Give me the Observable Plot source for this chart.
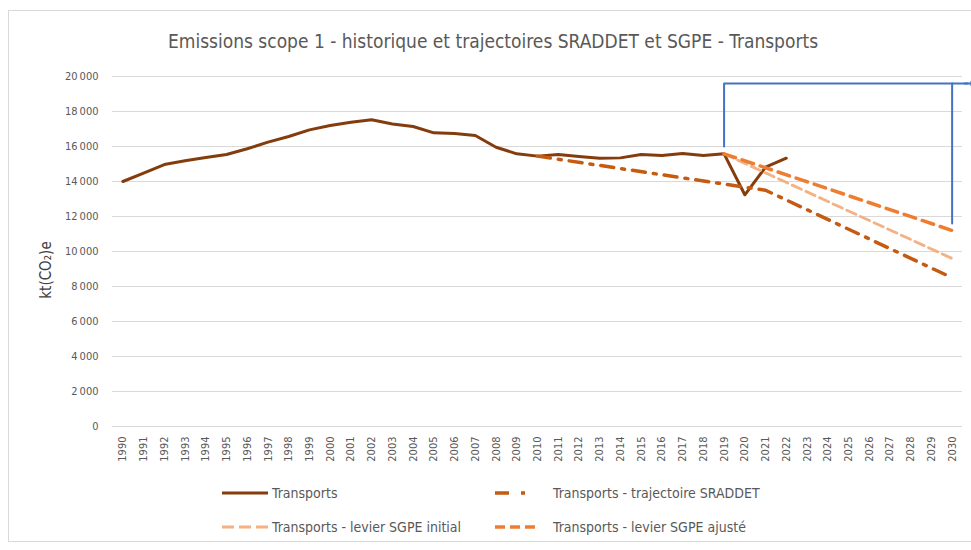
<!DOCTYPE html>
<html>
<head>
<meta charset="utf-8">
<script src="https://cdn.jsdelivr.net/npm/d3@7"></script>
<script src="https://cdn.jsdelivr.net/npm/@observablehq/plot@0.6"></script>
<style>
  html, body { margin: 0; padding: 0; background: #fff; }
  body { width: 971px; height: 550px; position: relative; overflow: hidden;
         font-family: "Liberation Sans Narrow", "DejaVu Sans Condensed", "Liberation Sans", sans-serif; }
  #frame { position: absolute; left: 8px; top: 10px; width: 980px; height: 532px; border: 1px solid #d9d9d9; box-sizing: border-box; }
  #title { position: absolute; top: 30px; left: 0; width: 986px; text-align: center; font-size: 19px; color: #595959; }
  #chart { position: absolute; left: 0; top: 0; }
  #chart svg { overflow: visible; }
  #ylabel { position: absolute; left: 46px; top: 270px; transform: translate(-50%, -50%) rotate(-90deg); font-size: 15px; color: #404040; white-space: nowrap; }
  .leg { position: absolute; font-size: 14px; color: #595959; display: flex; align-items: center; white-space: nowrap; }
</style>
</head>
<body>
<div id="frame"></div>
<div id="chart"></div>
<div id="title">Emissions scope 1 - historique et trajectoires SRADDET et SGPE - Transports</div>
<div id="ylabel">kt(CO₂)e</div>
<div id="legend"></div>
<script>
// ---- data ----
const years = d3.range(1990, 2031);
const transportYears = [1990,1991,1992,1993,1994,1995,1996,1997,1998,1999,2000,2001,2002,2003,2004,2005,2006,2007,2008,2009,2010,2011,2012,2013,2014,2015,2016,2017,2018,2019,2020,2021,2022];
const transportValues = [14000,14480,14970,15180,15370,15540,15870,16250,16570,16950,17200,17390,17525,17290,17140,16780,16740,16630,15960,15580,15450,15540,15430,15330,15350,15540,15480,15600,15480,15580,13240,14820,15330];
const sraddetYears = [2010, 2021, 2030];
const sraddetValues = [15450, 13500, 8500];
const sgpeInitialYears = [2019, 2030];
const sgpeInitialValues = [15580, 9600];
const sgpeAjusteYears = [2019, 2030];
const sgpeAjusteValues = [15580, 11200];
const yTicks = [0,2000,4000,6000,8000,10000,12000,14000,16000,18000,20000];
// annotation bracket (blue)
const bracketX = [2019, 2019, 2030.75];
const bracketY = [16000, 19600, 19600];
const bracketDropX = [2030, 2030];
const bracketDropY = [19600, 11600];

const series = [
  {name: "Transports", color: "#843c0c", width: 3, dash: null, legDash: null},
  {name: "Transports - trajectoire SRADDET", color: "#c55a11", width: 3.5, dash: "13,8,3,8", legDash: "14,12,4,20"},
  {name: "Transports - levier SGPE initial", color: "#f4b183", width: 2.8, dash: "10,5", legDash: "12,5"},
  {name: "Transports - levier SGPE ajusté", color: "#ed7d31", width: 3.5, dash: "12,7", legDash: "10,5"}
];

const toRows = (xs, ys) => xs.map((x, i) => ({x, y: ys[i]}));
const tFmt = d => d3.format(",")(d).replace(/,/g, "\u202f");

const plot = Plot.plot({
  width: 971,
  height: 480,
  marginTop: 76,
  marginBottom: 54,
  marginLeft: 112,
  marginRight: 9,
  style: {fontFamily: '"Liberation Sans Narrow", "DejaVu Sans Condensed", "Liberation Sans", sans-serif', fontSize: "11px", color: "#595959", background: "transparent"},
  x: {domain: [1989.5, 2030.5], ticks: years, tickFormat: d => String(d), tickRotate: -90, tickSize: 0, tickPadding: 10, label: null},
  y: {domain: [0, 20000], ticks: yTicks, tickFormat: tFmt, tickSize: 0, tickPadding: 14, label: null},
  marks: [
    Plot.gridY(yTicks, {stroke: "#d9d9d9", strokeOpacity: 1, strokeWidth: 1.2}),
    Plot.line(toRows(transportYears, transportValues), {x: "x", y: "y", stroke: series[0].color, strokeWidth: series[0].width, strokeLinejoin: "round"}),
    Plot.line(toRows(sraddetYears, sraddetValues), {x: "x", y: "y", stroke: series[1].color, strokeWidth: series[1].width, strokeDasharray: series[1].dash}),
    Plot.line(toRows(sgpeInitialYears, sgpeInitialValues), {x: "x", y: "y", stroke: series[2].color, strokeWidth: series[2].width, strokeDasharray: series[2].dash}),
    Plot.line(toRows(sgpeAjusteYears, sgpeAjusteValues), {x: "x", y: "y", stroke: series[3].color, strokeWidth: series[3].width, strokeDasharray: series[3].dash}),
    Plot.line(toRows(bracketX, bracketY), {x: "x", y: "y", stroke: "#4472c4", strokeWidth: 2, clip: false}),
    Plot.line(toRows(bracketDropX, bracketDropY), {x: "x", y: "y", stroke: "#4472c4", strokeWidth: 2, clip: false}),
    Plot.arrow([{x1: 2030.6, x2: 2031.05, y: 19600}], {x1: "x1", x2: "x2", y1: "y", y2: "y", stroke: "#4472c4", strokeWidth: 2, headLength: 9, headAngle: 70, clip: false})
  ]
});
document.getElementById("chart").appendChild(plot);

// legend
const legendPos = [
  {left: 222, top: 483},
  {left: 495, top: 483},
  {left: 222, top: 517},
  {left: 495, top: 517}
];
const legend = document.getElementById("legend");
series.forEach((s, i) => {
  const div = document.createElement("div");
  div.className = "leg";
  div.style.left = legendPos[i].left + "px";
  div.style.top = legendPos[i].top + "px";
  const sw = i % 2 === 0 ? 46 : 40;
  const svg = d3.create("svg").attr("width", sw).attr("height", 20)
    .style("margin-right", (i % 2 === 0 ? 4 : 18) + "px");
  svg.append("line").attr("x1", 0).attr("x2", sw).attr("y1", 10).attr("y2", 10)
    .attr("stroke", s.color).attr("stroke-width", s.width)
    .attr("stroke-dasharray", s.legDash);
  div.appendChild(svg.node());
  const span = document.createElement("span");
  span.textContent = s.name;
  div.appendChild(span);
  legend.appendChild(div);
});
</script>
</body>
</html>
